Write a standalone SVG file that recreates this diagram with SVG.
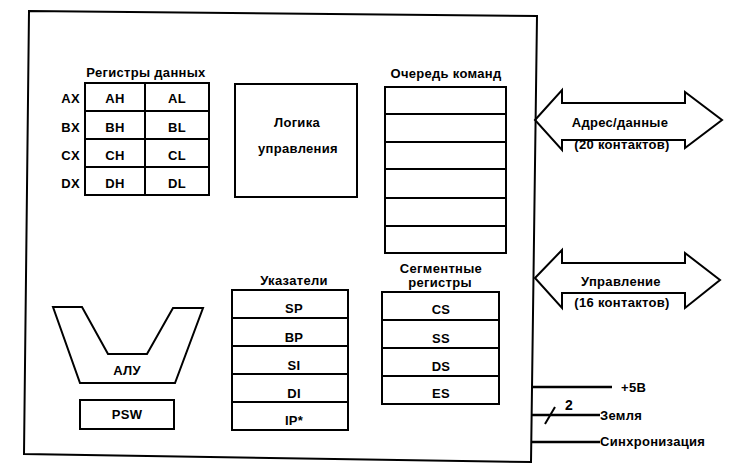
<svg xmlns="http://www.w3.org/2000/svg" width="733" height="467" viewBox="0 0 733 467">
<style>
.b{fill:none;stroke:#000;stroke-width:2}
.t{font-family:"Liberation Sans",Arial,sans-serif;font-weight:bold;font-size:13px;letter-spacing:0.3px;fill:#000}
.m{text-anchor:middle}
.e{text-anchor:end}
.c{stroke:#000;stroke-width:2.5;fill:none}
</style>
<rect width="733" height="467" fill="#fff"/>
<g id="chip">
<polygon class="b" points="29,11 537,16 531,462 24,454"/>
</g>
<g id="data-registers">
<text class="t m" x="146" y="77">Регистры данных</text>
<rect class="b" x="85" y="83" width="124" height="112"/>
<line class="b" x1="145" y1="83" x2="145" y2="195"/>
<line class="b" x1="85" y1="111" x2="209" y2="111"/>
<line class="b" x1="85" y1="139" x2="209" y2="139"/>
<line class="b" x1="85" y1="167" x2="209" y2="167"/>
<text class="t e" x="80" y="103">AX</text>
<text class="t e" x="80" y="132">BX</text>
<text class="t e" x="80" y="160">CX</text>
<text class="t e" x="80" y="188">DX</text>
<text class="t m" x="115" y="103">AH</text>
<text class="t m" x="177" y="103">AL</text>
<text class="t m" x="115" y="132">BH</text>
<text class="t m" x="177" y="132">BL</text>
<text class="t m" x="115" y="160">CH</text>
<text class="t m" x="177" y="160">CL</text>
<text class="t m" x="115" y="188">DH</text>
<text class="t m" x="177" y="188">DL</text>
</g>
<g id="control-logic">
<rect class="b" x="235" y="84" width="122" height="113"/>
<text class="t m" x="297" y="127">Логика</text>
<text class="t m" x="298" y="153">управления</text>
</g>
<g id="instruction-queue">
<text class="t m" x="446" y="78">Очередь команд</text>
<rect class="b" x="385" y="87" width="121" height="166"/>
<line class="b" x1="385" y1="114" x2="506" y2="114"/>
<line class="b" x1="385" y1="142" x2="506" y2="142"/>
<line class="b" x1="385" y1="169" x2="506" y2="169"/>
<line class="b" x1="385" y1="198" x2="506" y2="198"/>
<line class="b" x1="385" y1="226" x2="506" y2="226"/>
</g>
<g id="pointers">
<text class="t m" x="294" y="285">Указатели</text>
<rect class="b" x="232" y="290" width="116" height="140"/>
<line class="b" x1="232" y1="318" x2="348" y2="318"/>
<line class="b" x1="232" y1="346" x2="348" y2="346"/>
<line class="b" x1="232" y1="374" x2="348" y2="374"/>
<line class="b" x1="232" y1="402" x2="348" y2="402"/>
<text class="t m" x="294" y="313">SP</text>
<text class="t m" x="294" y="342">BP</text>
<text class="t m" x="294" y="370">SI</text>
<text class="t m" x="294" y="398">DI</text>
<text class="t m" x="294" y="425">IP*</text>
</g>
<g id="segment-registers">
<text class="t m" x="441" y="273">Сегментные</text>
<text class="t m" x="440" y="287">регистры</text>
<rect class="b" x="382" y="292" width="117" height="112"/>
<line class="b" x1="382" y1="320" x2="499" y2="320"/>
<line class="b" x1="382" y1="348" x2="499" y2="348"/>
<line class="b" x1="382" y1="376" x2="499" y2="376"/>
<text class="t m" x="441" y="314">CS</text>
<text class="t m" x="441" y="343">SS</text>
<text class="t m" x="441" y="371">DS</text>
<text class="t m" x="441" y="398">ES</text>
</g>
<g id="alu">
<polygon class="b" points="53,307 82,307 108,354 147,354 173,308 203,308 175,383 80,383"/>
<text class="t m" x="127" y="375">АЛУ</text>
</g>
<g id="psw">
<rect class="b" x="80" y="400" width="94" height="29"/>
<text class="t m" x="127" y="419">PSW</text>
</g>
<g id="bus-address">
<polygon class="b" points="535,120 562,90 562,103 685,103 685,92 722,120 685,148 685,140 562,140 562,150"/>
<text class="t m" x="620" y="127">Адрес/данные</text>
<text class="t m" x="622" y="149">(20 контактов)</text>
</g>
<g id="bus-control">
<polygon class="b" points="535,278 562,250 562,263 685,263 685,253 720,280 685,308 685,293 562,293 562,308"/>
<text class="t m" x="621" y="286">Управление</text>
<text class="t m" x="622" y="307">(16 контактов)</text>
</g>
<g id="connectors">
<line class="c" x1="532" y1="387" x2="612" y2="387"/>
<line class="c" x1="532" y1="415" x2="600" y2="415"/>
<line class="b" x1="545" y1="424" x2="555" y2="407"/>
<line class="c" x1="532" y1="442" x2="600" y2="442"/>
</g>
<g id="pins">
<text class="t" x="621" y="392">+5В</text>
<text class="t" x="565" y="410" style="font-size:14px">2</text>
<text class="t" x="600" y="420">Земля</text>
<text class="t" x="600" y="446">Синхронизация</text>
</g>
</svg>
